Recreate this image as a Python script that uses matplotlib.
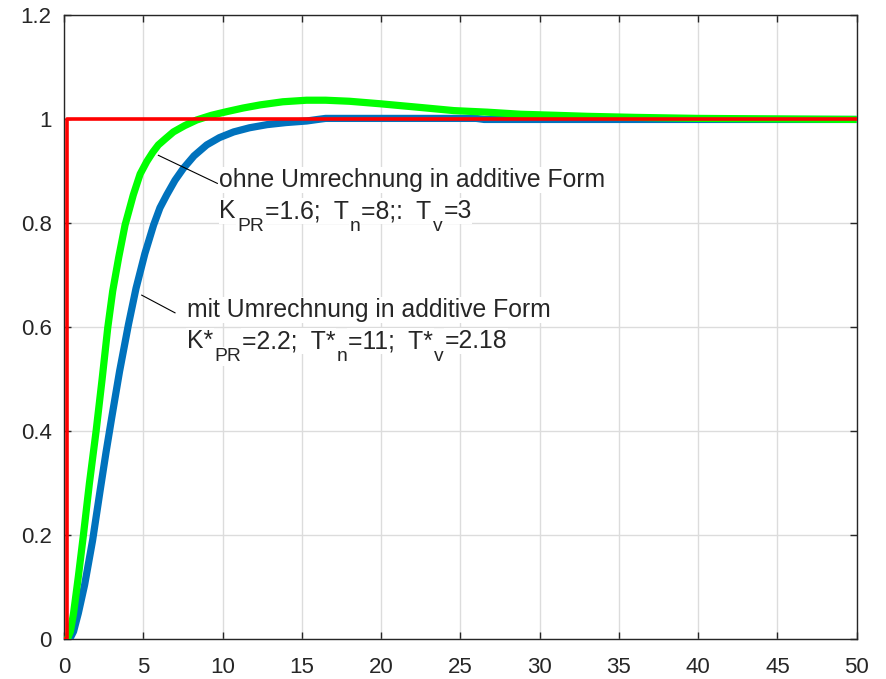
import matplotlib
matplotlib.use('Agg')
import matplotlib.pyplot as plt

plt.rcParams['font.family'] = ['Liberation Sans', 'DejaVu Sans']

# Sprungantwort ohne Umrechnung (gruen)
t_gruen = [0.2, 0.4, 0.6, 0.9, 1.22, 1.6, 2.02, 2.4, 2.76, 3.07, 3.45, 3.85, 4.37,
           4.8, 5.22, 5.6, 5.95, 6.4, 6.9, 7.6, 8.37, 9.3, 10.26, 11.3, 12.37,
           13.8, 15.3, 16.5, 18.0, 20.0, 22.5, 24.6, 26.7, 28.8, 31.0, 33.0,
           36.0, 40.0, 45.0, 50.0]
y_gruen = [0.0, 0.015, 0.05, 0.12, 0.2, 0.3, 0.4, 0.5, 0.6, 0.67, 0.735, 0.797, 0.855,
           0.895, 0.919, 0.937, 0.951, 0.963, 0.976, 0.988, 0.999, 1.008, 1.015, 1.022, 1.028,
           1.034, 1.037, 1.037, 1.035, 1.03, 1.023, 1.017, 1.014, 1.010, 1.008, 1.006,
           1.004, 1.002, 1.001, 1.0]

# Sprungantwort mit Umrechnung (blau)
t_blau = [0.35, 0.6, 0.9, 1.3, 1.8, 2.27, 2.65, 3.0, 3.5, 4.06, 4.54, 5.1, 5.65,
          6.05, 6.48, 7.0, 7.53, 8.2, 9.0, 9.8, 10.7, 11.7, 12.8, 14.0, 15.3, 16.0,
          16.5, 26.0, 26.5, 50.0]
y_blau = [0.0, 0.015, 0.05, 0.105, 0.19, 0.285, 0.36, 0.425, 0.515, 0.605, 0.675, 0.742, 0.797,
          0.83, 0.855, 0.883, 0.906, 0.93, 0.951, 0.965, 0.976, 0.984, 0.99, 0.994, 0.997, 1.0,
          1.002, 1.002, 1.0, 1.0]

# Sollwertsprung (rot)
t_rot = [0.0, 0.2, 0.2, 50.0]
y_rot = [0.0, 0.0, 1.0, 1.0]

xticks = [0, 5, 10, 15, 20, 25, 30, 35, 40, 45, 50]
yticks = [0, 0.2, 0.4, 0.6, 0.8, 1.0, 1.2]
yticklabels = ['0', '0.2', '0.4', '0.6', '0.8', '1', '1.2']

# Textzeilen: (Text, tiefgestellt?)
zeile_ohne = [('K', False), ('PR', True), ('=1.6;  T', False), ('n', True),
              ('=8;:  T', False), ('v', True), ('=3', False)]
zeile_mit = [('K*', False), ('PR', True), ('=2.2;  T*', False), ('n', True),
             ('=11;  T*', False), ('v', True), ('=2.18', False)]

fig = plt.figure(figsize=(8.87, 6.79), dpi=100)
ax = fig.add_axes([0.0722, 0.0585, 0.8936, 0.9187])

ax.plot(t_blau, y_blau, color='#0072BD', lw=5.2, solid_capstyle='butt', zorder=3)
ax.plot(t_gruen, y_gruen, color='#00FF00', lw=5.2, solid_capstyle='butt', zorder=4)
ax.plot(t_rot, y_rot, color='#FF0000', lw=2.6, zorder=5)

ax.set_xlim(0, 50)
ax.set_ylim(0, 1.2)
ax.set_xticks(xticks)
ax.set_yticks(yticks)
ax.set_yticklabels(yticklabels)
ax.grid(True, color='#dcdcdc', lw=1.0)
ax.set_axisbelow(True)
ax.tick_params(direction='in', top=True, right=True, length=5, width=1,
               labelsize=16, colors='#262626', pad=9)
ax.tick_params(axis='x', pad=13)
for s in ax.spines.values():
    s.set_color('#262626')
    s.set_linewidth(1.0)

box = dict(facecolor='white', edgecolor='none', pad=0.5)
FS = 17.8


def zeile(x, y, teile):
    # Stuecke nacheinander setzen, Index tiefer und kleiner
    renderer = fig.canvas.get_renderer()
    dx = 0
    for s, sub in teile:
        t = ax.annotate(s, xy=(x, y), xycoords='data', xytext=(dx, -13 if sub else 0),
                        textcoords='offset pixels', fontsize=FS * 0.78 if sub else FS,
                        color='#262626', va='baseline', ha='left', bbox=box, zorder=7)
        dx += t.get_window_extent(renderer).width + 1


# Beschriftungen mit Hinweislinien
ax.plot([5.95, 9.67], [0.931, 0.877], color='black', lw=0.8, zorder=6)
ax.text(9.8, 0.870, 'ohne Umrechnung in additive Form', fontsize=FS,
        color='#262626', va='baseline', bbox=box, zorder=7)
zeile(9.8, 0.810, zeile_ohne)

ax.plot([4.9, 7.0], [0.662, 0.628], color='black', lw=0.8, zorder=6)
ax.text(7.75, 0.620, 'mit Umrechnung in additive Form', fontsize=FS,
        color='#262626', va='baseline', bbox=box, zorder=7)
zeile(7.75, 0.560, zeile_mit)

fig.savefig('out.png', dpi=100)
